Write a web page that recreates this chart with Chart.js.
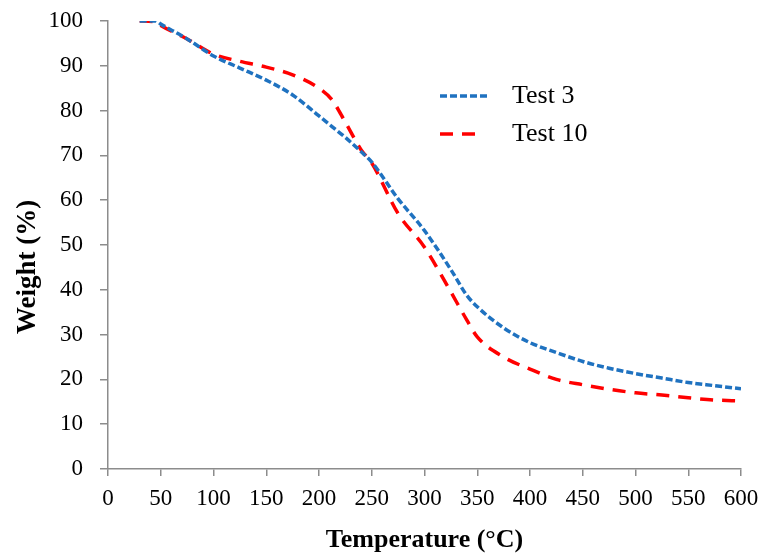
<!DOCTYPE html>
<html>
<head>
<meta charset="utf-8">
<script src="https://cdn.jsdelivr.net/npm/chart.js@4.4.0/dist/chart.umd.min.js"></script>
<style>
  html, body { margin: 0; padding: 0; background: #fff; }
  #wrap { width: 763px; height: 556px; position: relative; }
</style>
</head>
<body>
<div id="wrap"><canvas id="tgaChart"></canvas></div>
<script>
// temperature (°C) and weight (%)
const temps = [30, 45, 50, 75, 100, 125, 150, 175, 200, 212, 225, 240, 250, 275, 300, 325, 340, 350, 375, 400, 425, 450, 475, 500, 525, 550, 575, 600];
const test3 = [100, 100, 99.3, 96, 92.2, 89.5, 86.8, 83.5, 78.8, 76.5, 74, 70.8, 68.5, 60.3, 53.2, 44.5, 38.8, 36.2, 31.5, 28.2, 26, 24, 22.5, 21.3, 20.3, 19.3, 18.6, 17.9];
const test10 = [100, 99.8, 99, 96, 92.6, 91, 89.7, 88, 85, 82.5, 77.4, 71.2, 68.3, 57, 49.5, 39.5, 33.3, 29.5, 25, 22.3, 20, 18.8, 17.8, 17, 16.5, 15.9, 15.4, 15.2];
const seriesNames = ['Test 3', 'Test 10'];
const xTicks = [0, 50, 100, 150, 200, 250, 300, 350, 400, 450, 500, 550, 600];
const yTicks = [0, 10, 20, 30, 40, 50, 60, 70, 80, 90, 100];
const yTitle = 'Weight (%)';

const FONT = 'Liberation Serif';
const AXIS_GREY = '#8c8c8c';

function toPoints(ys) {
    return temps.map((t, i) => ({ x: t, y: ys[i] }));
}

// legend drawn inside the plot area like the original figure
const insideLegend = {
    id: 'insideLegend',
    afterDatasetsDraw(chart) {
        const ctx = chart.ctx;
        const a = chart.chartArea;
        const x0 = a.left + 332;
        const rows = [a.top + 75, a.top + 113];
        ctx.save();
        chart.data.datasets.forEach((ds, i) => {
            const y = rows[i];
            ctx.strokeStyle = ds.borderColor;
            ctx.lineWidth = ds.borderWidth;
            ctx.setLineDash(ds.borderDash);
            ctx.beginPath();
            ctx.moveTo(x0, y);
            ctx.lineTo(x0 + (i === 0 ? 47 : 40), y);
            ctx.stroke();
            ctx.setLineDash([]);
            ctx.fillStyle = '#000';
            ctx.font = '26px "' + FONT + '"';
            ctx.textBaseline = 'middle';
            ctx.fillText(ds.label, x0 + 72, y);
        });
        ctx.restore();
    }
};

// y axis title sits a bit below the middle of the axis in the original
const yAxisTitle = {
    id: 'yAxisTitle',
    afterDraw(chart) {
        const ctx = chart.ctx;
        const a = chart.chartArea;
        ctx.save();
        ctx.translate(28, (a.top + a.bottom) / 2 + 22);
        ctx.rotate(-Math.PI / 2);
        ctx.font = 'bold 27px "' + FONT + '"';
        ctx.fillStyle = '#000';
        ctx.textAlign = 'center';
        ctx.textBaseline = 'middle';
        ctx.fillText(yTitle, 0, 0);
        ctx.restore();
    }
};

new Chart(document.getElementById('tgaChart'), {
    type: 'scatter',
    data: {
        datasets: [
            {
                label: seriesNames[0],
                data: toPoints(test3),
                showLine: true,
                borderColor: '#1f72c0',
                borderWidth: 3.5,
                borderDash: [7, 3],
                pointRadius: 0,
                cubicInterpolationMode: 'monotone'
            },
            {
                label: seriesNames[1],
                data: toPoints(test10),
                showLine: true,
                borderColor: '#ff0000',
                borderWidth: 3.5,
                borderDash: [13, 9],
                pointRadius: 0,
                cubicInterpolationMode: 'monotone'
            }
        ]
    },
    options: {
        responsive: true,
        maintainAspectRatio: false,
        animation: false,
        layout: { padding: { top: 21, right: 22, left: 0, bottom: 0 } },
        plugins: {
            legend: { display: false },
            tooltip: { enabled: false }
        },
        scales: {
            x: {
                type: 'linear',
                min: 0,
                max: 600,
                afterBuildTicks: s => { s.ticks = xTicks.map(v => ({ value: v })); },
                afterFit: s => { s.height = 87; s.paddingLeft = 0; s.paddingRight = 0; },
                grid: { display: true, drawOnChartArea: false, drawTicks: true, tickLength: 7, color: AXIS_GREY, lineWidth: 1.5 },
                border: { color: AXIS_GREY, width: 1.5 },
                ticks: { color: '#000', padding: 9, font: { family: FONT, size: 23 } },
                title: {
                    display: true,
                    text: 'Temperature (°C)',
                    color: '#000',
                    padding: { top: 4, bottom: 0 },
                    font: { family: FONT, size: 26, weight: 'bold' }
                }
            },
            y: {
                type: 'linear',
                min: 0,
                max: 100,
                afterBuildTicks: s => { s.ticks = yTicks.map(v => ({ value: v })); },
                afterFit: s => { s.width = 108; s.paddingTop = 0; s.paddingBottom = 0; },
                grid: { display: true, drawOnChartArea: false, drawTicks: true, tickLength: 8, color: AXIS_GREY, lineWidth: 1.5 },
                border: { color: AXIS_GREY, width: 1.5 },
                ticks: { color: '#000', padding: 17, font: { family: FONT, size: 23 } },
                title: { display: false }
            }
        }
    },
    plugins: [insideLegend, yAxisTitle]
});
</script>
</body>
</html>
